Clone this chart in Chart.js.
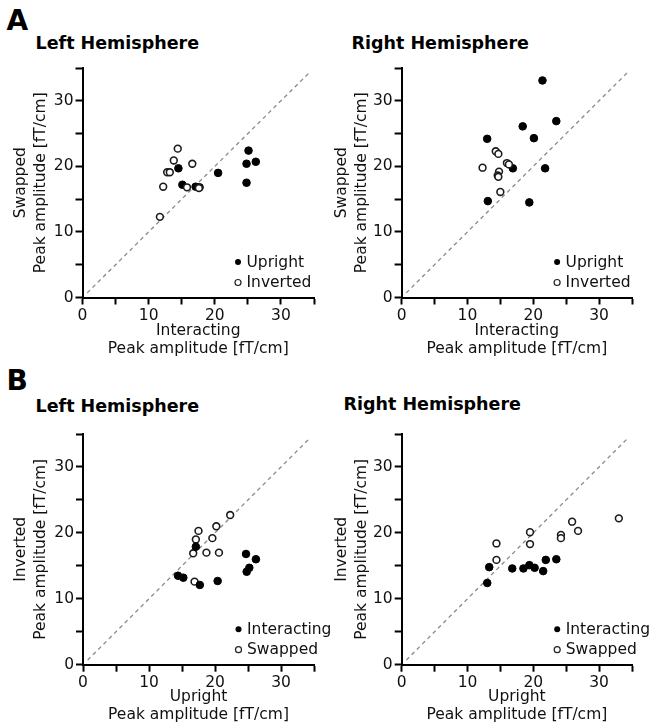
<!DOCTYPE html>
<html>
<head>
<meta charset="utf-8">
<script src="https://cdn.jsdelivr.net/npm/chart.js@4.4.1/dist/chart.umd.min.js"></script>
<style>
body { margin: 0; background: #fff; }
#fig { position: relative; width: 650px; height: 726px; overflow: hidden; font-family: 'DejaVu Sans', sans-serif; }
.lbl { position: absolute; font-weight: bold; line-height: 1; color: #000; white-space: nowrap; }
.letter { font-size: 28px; }
.ttl { font-size: 17.5px; }
canvas { position: absolute; }
</style>
</head>
<body>
<div id="fig">
  <div class="lbl letter" style="left:6.5px;top:6.7px">A</div>
  <div class="lbl ttl" style="left:35.5px;top:34.7px">Left Hemisphere</div>
  <div class="lbl ttl" style="left:351.5px;top:34.7px">Right Hemisphere</div>
  <div class="lbl letter" style="left:6.5px;top:366.7px">B</div>
  <div class="lbl ttl" style="left:35.5px;top:398.3px">Left Hemisphere</div>
  <div class="lbl ttl" style="left:343.5px;top:396px">Right Hemisphere</div>

  <canvas id="aLeft" width="345" height="305" style="left:0;top:55px"></canvas>
  <canvas id="aRight" width="325" height="305" style="left:325px;top:55px"></canvas>
  <canvas id="bLeft" width="345" height="306" style="left:0;top:420px"></canvas>
  <canvas id="bRight" width="325" height="306" style="left:325px;top:420px"></canvas>
</div>
<script>
// A, left hemisphere: Interacting (x) vs Swapped (y)
const aLeftUprightX = [14.5, 15.1, 17.1, 17.7, 20.5, 24.8, 24.8, 25.1, 26.2]
const aLeftUprightY = [19.7, 17.2, 16.9, 16.8, 19.0, 20.4, 17.5, 22.4, 20.7]
const aLeftInvertedX = [11.7, 12.2, 12.8, 13.2, 13.8, 14.4, 15.8, 16.6, 17.6]
const aLeftInvertedY = [12.3, 16.9, 19.1, 19.1, 20.9, 22.7, 16.8, 20.4, 16.7]

// A, right hemisphere
const aRightUprightX = [13.0, 13.1, 16.9, 18.4, 19.4, 20.1, 21.4, 21.8, 23.5]
const aRightUprightY = [24.2, 14.7, 19.7, 26.1, 14.5, 24.3, 33.1, 19.7, 26.9]
const aRightInvertedX = [12.3, 14.3, 14.7, 14.8, 14.6, 14.7, 15.0, 16.0, 16.3]
const aRightInvertedY = [19.8, 22.3, 21.9, 19.2, 18.6, 18.4, 16.1, 20.5, 20.3]

// B, left hemisphere: Upright (x) vs Inverted (y)
const bLeftInteractingX = [14.4, 15.2, 17.1, 17.7, 20.4, 24.7, 24.8, 25.2, 26.2]
const bLeftInteractingY = [13.5, 13.2, 17.9, 12.1, 12.7, 16.8, 14.1, 14.7, 16.0]
const bLeftSwappedX = [22.3, 20.2, 17.5, 17.1, 19.6, 16.7, 18.7, 20.6, 16.9]
const bLeftSwappedY = [22.7, 21.0, 20.3, 19.0, 19.2, 16.9, 17.0, 17.0, 12.6]

// B, right hemisphere
const bRightInteractingX = [13.0, 13.3, 16.8, 18.5, 19.4, 20.2, 21.5, 21.9, 23.5]
const bRightInteractingY = [12.4, 14.8, 14.6, 14.6, 15.1, 14.7, 14.2, 15.9, 16.0]
const bRightSwappedX = [14.4, 14.4, 19.5, 19.5, 24.2, 24.2, 25.9, 26.8, 33.0]
const bRightSwappedY = [18.4, 15.9, 20.1, 18.3, 19.7, 19.2, 21.7, 20.3, 22.2]

// unity line and axis range
const unityLine = [0.7, 34.3]
const axisMin = 0
const axisMax = 35

const toPoints = (xs, ys) => xs.map((x, i) => ({ x: x, y: ys[i] }))

const FONT = "'DejaVu Sans', sans-serif"

const legendInside = {
    id: 'legendInside',
    afterDraw(chart, args, opts) {
        const ctx = chart.ctx
        const area = chart.chartArea
        ctx.save()
        ctx.font = `15.5px ${FONT}`
        ctx.textBaseline = 'middle'
        ctx.fillStyle = '#111'
        opts.items.forEach((item, i) => {
            const x = area.left + opts.dx
            const y = area.bottom - opts.dy[i]
            ctx.beginPath()
            ctx.arc(x, y, 3, 0, Math.PI * 2)
            if (item.filled) {
                ctx.fillStyle = '#000'
                ctx.fill()
            } else {
                ctx.fillStyle = '#fff'
                ctx.fill()
                ctx.lineWidth = 1.2
                ctx.strokeStyle = '#222'
                ctx.stroke()
            }
            ctx.fillStyle = '#111'
            ctx.fillText(item.text, x + 8.5, y + 0.5)
        })
        ctx.restore()
    }
}

const axisBase = (title, titleOpts) => ({
    type: 'linear',
    min: axisMin,
    max: axisMax,
    ticks: {
        stepSize: 5,
        autoSkip: false,
        maxRotation: 0,
        padding: 2,
        color: '#111',
        font: { family: FONT, size: 15.5 },
        callback: (v) => (v % 10 === 0 ? v : '')
    },
    grid: {
        display: true,
        drawOnChartArea: false,
        drawTicks: true,
        tickLength: 7,
        tickWidth: 2,
        tickColor: '#000'
    },
    border: { display: true, color: '#000', width: 2 },
    title: {
        display: true,
        text: title,
        color: '#111',
        font: { family: FONT, size: 15.5, lineHeight: titleOpts.lineHeight },
        padding: titleOpts.padding
    }
})

const makePanel = (id, cfg) => {
    const ctx = document.getElementById(id).getContext('2d')
    const xAxis = axisBase(cfg.xTitle, { lineHeight: '17.5px', padding: { top: 0, bottom: 2.5 } })
    xAxis.afterFit = (scale) => { scale.height = cfg.xHeight }
    const yAxis = axisBase(cfg.yTitle, { lineHeight: '20px', padding: { top: cfg.yTitlePad, bottom: 0 } })
    yAxis.afterFit = (scale) => { scale.width = cfg.yWidth }

    return new Chart(ctx, {
        type: 'scatter',
        data: {
            datasets: [
                {
                    label: 'unity',
                    data: toPoints(unityLine, unityLine),
                    showLine: true,
                    borderColor: '#8a8a8a',
                    borderWidth: 1.3,
                    borderDash: [4, 3.5],
                    pointRadius: 0,
                    order: 3
                },
                {
                    label: cfg.filledLabel,
                    data: cfg.filled,
                    backgroundColor: '#000',
                    borderColor: '#000',
                    borderWidth: 1,
                    pointRadius: 3.8,
                    order: cfg.filledOnTop ? 1 : 2
                },
                {
                    label: cfg.openLabel,
                    data: cfg.open,
                    backgroundColor: '#fff',
                    borderColor: '#1c1c1c',
                    borderWidth: 1.6,
                    pointRadius: 3.4,
                    order: cfg.filledOnTop ? 2 : 1
                }
            ]
        },
        options: {
            responsive: false,
            animation: false,
            devicePixelRatio: 1,
            layout: { autoPadding: false, padding: { top: cfg.padTop, right: cfg.padRight, left: 0, bottom: 0 } },
            scales: { x: xAxis, y: yAxis },
            plugins: {
                legend: { display: false },
                tooltip: { enabled: false },
                legendInside: {
                    dx: 155.5,
                    dy: [35.5, 15],
                    items: [
                        { text: cfg.filledLabel, filled: true },
                        { text: cfg.openLabel, filled: false }
                    ]
                }
            }
        },
        plugins: [legendInside]
    })
}

makePanel('aLeft', {
    filled: toPoints(aLeftUprightX, aLeftUprightY),
    open: toPoints(aLeftInvertedX, aLeftInvertedY),
    filledLabel: 'Upright', openLabel: 'Inverted', filledOnTop: false,
    xTitle: ['Interacting', 'Peak amplitude [fT/cm]'],
    yTitle: ['Swapped', 'Peak amplitude [fT/cm]'],
    yWidth: 82.5, yTitlePad: 11, xHeight: 62.5, padTop: 13, padRight: 31
})

makePanel('aRight', {
    filled: toPoints(aRightUprightX, aRightUprightY),
    open: toPoints(aRightInvertedX, aRightInvertedY),
    filledLabel: 'Upright', openLabel: 'Inverted', filledOnTop: false,
    xTitle: ['Interacting', 'Peak amplitude [fT/cm]'],
    yTitle: ['Swapped', 'Peak amplitude [fT/cm]'],
    yWidth: 76.6, yTitlePad: 7, xHeight: 62.5, padTop: 13, padRight: 18
})

makePanel('bLeft', {
    filled: toPoints(bLeftInteractingX, bLeftInteractingY),
    open: toPoints(bLeftSwappedX, bLeftSwappedY),
    filledLabel: 'Interacting', openLabel: 'Swapped', filledOnTop: true,
    xTitle: ['Upright', 'Peak amplitude [fT/cm]'],
    yTitle: ['Inverted', 'Peak amplitude [fT/cm]'],
    yWidth: 83, yTitlePad: 11, xHeight: 61.3, padTop: 14, padRight: 31
})

makePanel('bRight', {
    filled: toPoints(bRightInteractingX, bRightInteractingY),
    open: toPoints(bRightSwappedX, bRightSwappedY),
    filledLabel: 'Interacting', openLabel: 'Swapped', filledOnTop: true,
    xTitle: ['Upright', 'Peak amplitude [fT/cm]'],
    yTitle: ['Inverted', 'Peak amplitude [fT/cm]'],
    yWidth: 76.7, yTitlePad: 7, xHeight: 61.3, padTop: 14, padRight: 18
})
</script>
</body>
</html>
